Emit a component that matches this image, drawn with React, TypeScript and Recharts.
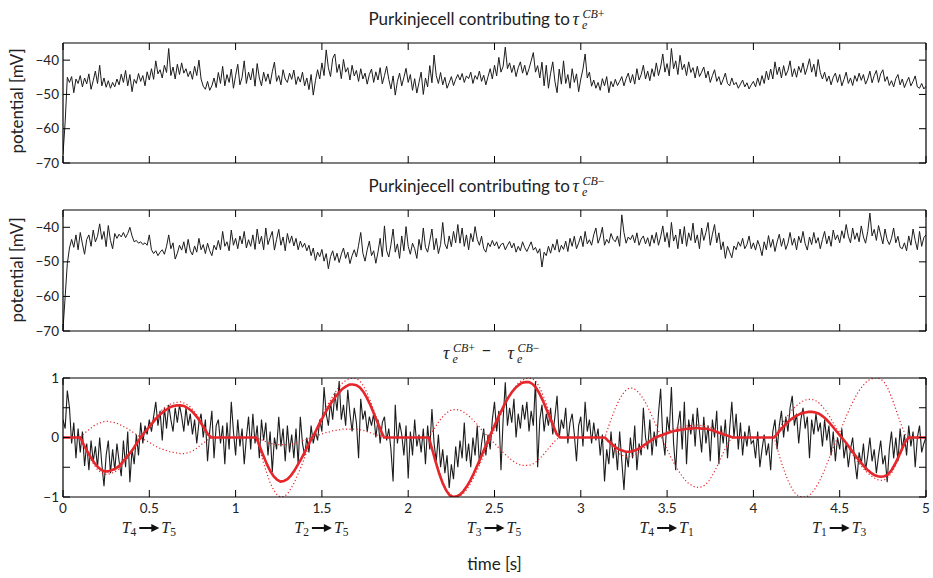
import React from 'react';
import { LineChart, Line, XAxis, YAxis, ReferenceLine } from 'recharts';

// sample spacing of the recorded traces and of the red target curves (seconds)
const TRACE_DT = 0.0125;
const TARGET_DT = 0.02;

const timeTicks = [0, 0.5, 1, 1.5, 2, 2.5, 3, 3.5, 4, 4.5, 5];
const mvTicks = [-70, -60, -50, -40];
const diffTicks = [-1, -0.5, 0, 0.5, 1];
const diffTickLabels = [-1, 0, 1];
const segmentTicks = [0.5, 1.5, 2.5, 3.5, 4.5];
const segmentLabels = [
  ['4', '5'],
  ['2', '5'],
  ['3', '5'],
  ['4', '1'],
  ['1', '3'],
];

// membrane potential of the cell contributing to tau CB+ [mV], one row per 0.1 s
const potentialPlus = [
  -67.5, -58, -45, -46.5, -44.8, -49.5, -45.5, -46.8,
  -44.5, -47.8, -45.2, -46.9, -44, -48.5, -46, -43.2,
  -46.8, -41.5, -47.5, -45.2, -47.9, -46, -48.2, -46.5,
  -47.8, -45.5, -47.2, -44.1, -46.5, -43, -47.5, -44.2,
  -49.2, -45.6, -46.8, -43.9, -46.2, -44.5, -47.5, -43.4,
  -45.8, -42.5, -45.6, -40.2, -44, -42.8, -45.2, -41.5,
  -43.6, -36.6, -44.5, -42, -45.5, -41.2, -44.2, -40.8,
  -43.8, -42.5, -44.8, -43.2, -45.6, -41.8, -44.5, -40,
  -45.5, -47.6, -48.5, -46.2, -48.8, -47.5, -45.2, -48,
  -43.6, -46.8, -41.8, -47.5, -44.2, -46.5, -42.6, -48.2,
  -44.5, -41.2, -47.2, -45, -40.2, -46.8, -43.5, -45.8,
  -42.4, -47.6, -41, -45.2, -47.5, -43.5, -46.2, -44,
  -47, -43.4, -40.6, -46.2, -44.5, -47.2, -42.8, -45.5,
  -46.5, -43.8, -45.6, -42.9, -47.1, -44.8, -46.4, -43.5,
  -47.5, -45.2, -48.6, -44.2, -50.2, -46, -42.8, -45.5,
  -40.8, -44.5, -37, -42.2, -44.8, -39.5, -38.2, -43.6,
  -41.2, -45.4, -39.8, -43.5, -42.2, -45.8, -41.5, -44.6,
  -43, -46.2, -42.5, -45.5, -43.8, -47, -44.2, -42.6,
  -46.5, -43.4, -45.8, -42.2, -46.9, -44.5, -41.8, -45.6,
  -48.4, -44.6, -50.2, -46.2, -43.8, -47.5, -45, -42.4,
  -46.5, -44.2, -48.8, -45.4, -49.6, -46.5, -43.5, -50,
  -45.2, -47.8, -41.6, -46.6, -38.5, -44.5, -46.8, -43.6,
  -47.2, -45, -48.2, -46.6, -44.8, -47.4, -45.6, -44.2,
  -45.8, -43.9, -46.5, -44.6, -45.4, -43.5, -46.8, -44.5,
  -45.6, -43.2, -46.2, -44.4, -47.2, -44.8, -42.5, -45.5,
  -41.5, -44.6, -39.2, -43.5, -41.8, -36.2, -42.5, -40.8,
  -43.6, -41.5, -44.8, -42.2, -40.5, -43.8, -41.5, -44.4,
  -42.5, -40.2, -37.8, -43.5, -41.6, -45.2, -40.6, -47.5,
  -41.5, -48.2, -43.8, -40.5, -46.2, -49.5, -42.6, -47,
  -40.2, -46.8, -44.2, -48.2, -42.5, -46.5, -44, -49.2,
  -45.5, -42.6, -38.2, -45.2, -43.5, -47.6, -45.8, -48.2,
  -46.5, -48.8, -45.4, -47.5, -44.8, -49.5, -46.2, -47.8,
  -45.6, -47.4, -46.2, -44.8, -47.5, -45.4, -43.8, -46.6,
  -44.2, -47, -42.5, -45.8, -44.2, -41.5, -45.5, -43.2,
  -46, -42.5, -44.8, -40.8, -44.5, -42, -38.2, -43.5,
  -41, -44.6, -36.6, -42.5, -40.2, -44.2, -38.6, -42.8,
  -41.2, -44.5, -40.5, -43.6, -42.2, -45.2, -41.8, -44.8,
  -43.5, -42, -45.2, -43.2, -46.5, -44.5, -42.8, -46.2,
  -44.8, -47.2, -45.6, -43.8, -46.8, -47.5, -45.2, -47.2,
  -46.5, -48.2, -47, -45.8, -47.8, -46.6, -48.4, -47.2,
  -46.2, -47.8, -45.2, -47.4, -44.5, -46.8, -43.2, -45.8,
  -42.6, -45.5, -40.5, -44.2, -42, -45.2, -41.6, -44.5,
  -43, -40.2, -44.8, -42.5, -45, -41.8, -43.6, -40.8,
  -44.2, -42.2, -39.6, -43.5, -41.2, -44.8, -39.8, -43.6,
  -45.5, -43.5, -46.2, -44.6, -47.2, -45, -43.8, -46.5,
  -44.2, -47.5, -45.6, -43.5, -46.8, -45.2, -47.4, -44.5,
  -46.2, -43.8, -45.9, -44.2, -47, -45.5, -43.2, -46.6,
  -44.5, -43, -46.5, -44, -42.8, -46.2, -44.8, -47.4,
  -46, -47.8, -45.4, -44.2, -47.2, -45.5, -48, -46.4,
  -45, -47.5, -46.2, -44.6, -47.8, -48.2, -46.8, -48.4,
  -47.6,
];

// membrane potential of the cell contributing to tau CB- [mV]
const potentialMinus = [
  -69.5, -60, -50.5, -46, -43.5, -45.8, -42.2, -46.5,
  -41.5, -44.8, -47.8, -43.5, -42.2, -45.5, -40.8, -44.2,
  -42.6, -39, -43.5, -41.2, -45.6, -39.5, -43.8, -46.2,
  -41.8, -43.2, -42, -42.8, -41.5, -43, -41.8, -40,
  -42.5, -44.2, -43.8, -44.6, -44.2, -45, -44.5, -45.2,
  -42.2, -46.5, -47.6, -46.8, -48.2, -47.2, -46.5, -47.8,
  -45.5, -42.2, -46.2, -44.5, -49.2, -47.5, -45.2, -46.6,
  -44.2, -47.5, -43.5, -46.8, -48, -45.4, -47.2, -43.2,
  -46.5, -45, -47.6, -44.6, -46.8, -48.2, -45.2, -46.5,
  -43.8, -46.5, -41.2, -45.5, -44.2, -46.8, -40.8, -45.2,
  -43.2, -46.2, -42.5, -44.8, -41.2, -46, -43.6, -45.5,
  -42.2, -46.4, -40.5, -44.8, -42.6, -46.5, -40.2, -45,
  -43, -41.2, -46.6, -43.5, -40.6, -45.2, -42.8, -46.8,
  -41.8, -44.6, -42.5, -45.4, -43.2, -46.5, -44, -45.8,
  -44.6, -46.8, -45.2, -48.2, -46, -49.6, -47.2, -48.5,
  -46.4, -49.8, -47.6, -52, -48.5, -46.8, -49.6, -47.5,
  -50.2, -47.8, -46, -49, -47.2, -50.5, -48.2, -46.5,
  -48.6, -45.2, -41.5, -47.5, -49.8, -46.5, -44, -48.2,
  -46.8, -50.4, -47.2, -43.2, -48.5, -39.6, -46.8, -48.6,
  -45, -40.5, -47.2, -44.8, -49, -42.5, -46.8, -39.8,
  -45.5, -47.8, -44.6, -46.2, -49, -43.5, -46.6, -40.2,
  -45.8, -47.2, -44, -40.5, -46.5, -43.2, -47.6, -45,
  -38.6, -44.8, -46.2, -42.5, -45.6, -41.2, -44.5, -39.2,
  -44.6, -40.2, -45.5, -42.2, -46.5, -41.8, -44.2, -39.8,
  -43.5, -45.2, -42.6, -46.2, -47.2, -44.5, -45.6, -43.8,
  -45.4, -44.2, -46.2, -45, -44.6, -46.5, -45.2, -44.1,
  -46, -44.6, -47.2, -45.5, -46.8, -44.2, -45.9, -47,
  -45.6, -44.2, -46.6, -45.8, -47.5, -46.2, -51.5, -47.2,
  -48.2, -45.5, -47.5, -44.8, -46.6, -43.5, -47.2, -45.2,
  -46.4, -44, -47, -43.2, -45.5, -42.6, -46.2, -44.5,
  -42.5, -45.6, -41.2, -44.8, -43.6, -45.2, -42.2, -40.2,
  -44.6, -42.8, -40, -45.2, -43.5, -44.6, -41.8, -43.5,
  -44.2, -42.5, -45.5, -36.4, -41.5, -44.6, -42.8, -43.6,
  -42.2, -44.5, -41.6, -45.2, -43.4, -42.5, -44.8, -43,
  -45.5, -42.2, -44.6, -41.5, -45.2, -42.8, -39.6, -44.2,
  -41.5, -45.8, -38.6, -44, -42.2, -46.2, -40.5, -44.8,
  -39.8, -45.5, -41.6, -43.8, -38.8, -44.5, -42.2, -46.2,
  -40.2, -43.8, -41.5, -38.6, -45.2, -42, -39.2, -44.5,
  -41.6, -46.5, -44.2, -49, -45.5, -47.2, -48.8, -45.4,
  -46.5, -44.2, -45.5, -43.2, -46.2, -45, -42.5, -46.2,
  -44.5, -46.6, -43.8, -45.6, -48.2, -44.2, -46.5, -42.4,
  -45.8, -43.5, -47, -44.2, -42, -45.5, -43.2, -46.4,
  -44.6, -41.5, -45.2, -43.2, -46.5, -42.6, -44.5, -41.2,
  -44.8, -46.6, -42.8, -45, -41.5, -44.6, -43, -46.2,
  -43.5, -41.2, -44.8, -42.5, -45.5, -40.8, -43.6, -42.2,
  -44.5, -41, -43.2, -39.2, -42.6, -44.5, -40.2, -43.5,
  -41.6, -44.2, -39.6, -42.8, -44.6, -41.2, -35.9, -42.5,
  -40.6, -43.8, -39.5, -42.2, -44.8, -40.5, -43.6, -45,
  -43.2, -40.2, -44.5, -42.6, -45.8, -46.2, -44.5, -46.8,
  -42.5, -45.2, -40.5, -43.8, -46.5, -41.2, -45.5, -43,
  -42.2,
];

// tau CB+ minus tau CB- (normalised)
const tauDiff = [
  0.3, 0.15, 0.79, 0.5, -0.1, 0.25, -0.35, 0.15,
  -0.25, 0.1, -0.48, -0.1, -0.55, -0.05, -0.4, -0.15,
  -0.5, 0, -0.45, -0.82, -0.3, -0.05, -0.6, -0.2,
  -0.55, -0.1, -0.4, -0.65, -0.05, -0.5, 0.1, -0.75,
  -0.2, -0.45, 0.05, -0.3, 0.25, -0.1, 0.2, 0.05,
  0.3, 0.1, 0.35, 0.6, 0.2, 0.45, -0.05, 0.5,
  0.15, 0.55, 0.3, 0.1, 0.5, 0.25, 0.55, 0.35,
  0.1, 0.5, 0.2, 0.4, 0.05, 0.3, -0.1, 0.25,
  0.4, 0, 0.3, -0.4, 0.1, 0.45, -0.35, 0.2,
  0.3, -0.1, 0.2, -0.45, 0.25, -0.2, 0.6, 0.1,
  -0.3, 0.3, -0.15, 0.15, -0.45, 0, 0.35, -0.2,
  0.4, -0.1, 0.2, -0.35, 0.3, -0.05, 0.25, -0.3,
  0.1, -0.58, 0, -0.2, 0.35, -0.15, 0.15, -0.4,
  0.2, -0.25, 0.05, -0.35, 0.15, -0.45, 0.35, -0.1,
  -0.3, 0, -0.25, 0.2, -0.1, 0.1, -0.05, 0.3,
  0.1, 0.85, 0.4, 0.2, 0.6, 0.3, 0.75, 0.45,
  0.95, 0.3, 0.55, 0.2, 0.8, 0.4, 0.1, 0.5,
  0.25, -0.35, 0.65, 0.3, 0.45, 0.1, 0.35, 0.2,
  0.4, 0, 0.3, -0.1, 0.25, 0.35, -0.05, 0.15,
  -0.2, -0.74, 0.55, -0.1, 0.25, 0.05, -0.3, 0.2,
  -0.69, 0.1, -0.3, 0.3, -0.15, 0.05, -0.25, 0.15,
  -0.45, 0.2, -0.2, 0.48, -0.1, -0.4, 0.05, -0.5,
  -0.2, -0.6, -0.3, -0.85, -0.45, -0.7, -0.15, -0.5,
  -0.05, -0.35, 0.25, -0.4, -0.1, -0.5, 0, -0.3,
  0.2, -0.45, -0.1, 0.15, -0.3, 0.05, -0.2, 0.3,
  0.6, 0.1, 0.45, -0.55, 0.3, 0.93, 0.2, 0.5,
  0.25, 0.65, 0, 0.4, 0.15, 0.55, 0.3, 0.6,
  0.1, 0.45, 0.2, 0.95, -0.5, 0.3, 0.55, 0.1,
  0.4, 0.2, 0.5, 0.05, 0.35, 0.7, 0, 0.3,
  0.15, 0.5, -0.1, 0.25, 0.4, 0.05, -0.4, 0.2,
  0.35, -0.15, 0.6, 0.1, 0.3, -0.1, 0.25, -0.05,
  0.15, -0.3, 0.05, -0.74, -0.2, -0.45, 0.1, -0.35,
  -0.1, -0.55, 0.1, -0.4, -0.88, -0.25, -0.5, 0,
  -0.35, 0.2, -0.55, -0.1, -0.3, 0.5, 0, -0.2,
  0.3, -0.3, 0.1, -0.15, 0.4, 0.82, 0, -0.3,
  0.35, 0.1, 0.85, -0.1, -0.55, 0.2, 0.45, -0.2,
  0.6, -0.45, 0.3, 0.05, 0.4, -0.15, 0.5, 0.1,
  -0.25, 0.35, -0.1, 0.2, -0.4, 0.3, 0, 0.45,
  -0.45, 0.2, -0.1, 0.3, -0.35, 0.15, 0.6, 0,
  0.4, -0.2, 0.25, -0.3, 0.1, -0.15, 0.2, -0.1,
  -0.05, -0.35, 0.1, -0.5, -0.2, 0.05, -0.3, -0.1,
  -0.55, 0.1, 0.3, -0.2, 0.2, 0.45, 0, 0.35,
  0.1, 0.5, 0.7, 0.2, 0.4, -0.1, 0.3, 0.5,
  0.15, 0.35, -0.35, 0.3, 0.05, 0.4, 0.1, 0.25,
  -0.15, 0.3, -0.05, 0.2, -0.3, 0.1, -0.4, 0,
  -0.2, 0.15, -0.35, -0.1, -0.5, -0.2, 0, -0.4,
  -0.7, -0.25, -0.45, -0.1, -0.55, -0.3, 0, -0.4,
  -0.2, -0.6, -0.3, -0.05, -0.45, -0.3, -0.75, -0.2,
  0.1, -0.35, 0, -0.4, 0.15, -0.2, 0.05, -0.3,
  0.2, -0.15, 0.1, -0.5, 0, 0.2, -0.25, -0.1,
  0,
];

// red thick curve, sampled every 0.02 s
const tauOutput = [
  0, 0, 0, 0, 0, 0,
  -0.12, -0.23, -0.33, -0.42, -0.49, -0.54, -0.57, -0.57, -0.55, -0.53,
  -0.49, -0.43, -0.36, -0.29, -0.22, -0.13, -0.04, 0.04, 0.11, 0.18,
  0.25, 0.32, 0.38, 0.43, 0.47, 0.51, 0.53, 0.54, 0.54, 0.53,
  0.5, 0.46, 0.4, 0.33, 0.24, 0.15, 0.05, 0,
  0, 0, 0, 0, 0, 0, 0, 0, 0, 0, 0, 0, 0,
  -0.15, -0.3, -0.44, -0.56, -0.65, -0.71, -0.74, -0.73, -0.7, -0.64,
  -0.56, -0.46, -0.36, -0.25, -0.13, -0.02, 0.08, 0.2, 0.31, 0.42,
  0.52, 0.61, 0.69, 0.76, 0.82, 0.86, 0.89, 0.89, 0.88, 0.84,
  0.77, 0.67, 0.55, 0.41, 0.27, 0.13, 0,
  0, 0, 0, 0, 0, 0, 0, 0, 0, 0, 0, 0, 0,
  -0.21, -0.42, -0.61, -0.77, -0.89, -0.97, -1, -0.99, -0.96, -0.9,
  -0.82, -0.72, -0.6, -0.47, -0.34, -0.2, -0.07, 0.07, 0.2, 0.33,
  0.45, 0.57, 0.67, 0.76, 0.83, 0.88, 0.92, 0.93, 0.93, 0.9,
  0.84, 0.74, 0.62, 0.48, 0.34, 0.2, 0.06, 0,
  0, 0, 0, 0, 0, 0, 0, 0, 0, 0, 0, 0, 0,
  -0.06, -0.11, -0.16, -0.2, -0.22, -0.24, -0.24, -0.23, -0.21, -0.18,
  -0.14, -0.1, -0.06, -0.02, 0.01, 0.03, 0.05, 0.07, 0.09, 0.11,
  0.12, 0.13, 0.14, 0.15, 0.15, 0.16, 0.16, 0.15, 0.15, 0.14,
  0.12, 0.1, 0.08, 0.06, 0.04, 0.02, 0,
  0, 0, 0, 0, 0, 0, 0, 0, 0, 0, 0, 0,
  0.07, 0.14, 0.2, 0.26, 0.31, 0.35, 0.38, 0.41, 0.42, 0.43,
  0.43, 0.42, 0.4, 0.36, 0.31, 0.25, 0.18, 0.11, 0.04, -0.03,
  -0.1, -0.18, -0.26, -0.34, -0.41, -0.48, -0.54, -0.59, -0.63, -0.65,
  -0.66, -0.65, -0.62, -0.55, -0.45, -0.33, -0.2, -0.07, 0,
  0, 0, 0, 0, 0,
];

// first red dotted curve
const tauDottedA = [
  0, 0, 0, 0, 0, 0,
  -0.13, -0.25, -0.36, -0.46, -0.54, -0.59, -0.62, -0.62, -0.6, -0.58,
  -0.54, -0.47, -0.4, -0.32, -0.24, -0.14, -0.04, 0.04, 0.12, 0.2,
  0.28, 0.35, 0.42, 0.48, 0.52, 0.56, 0.58, 0.59, 0.6, 0.58,
  0.55, 0.51, 0.44, 0.36, 0.26, 0.17, 0.06, 0,
  0, 0, 0, 0, 0, 0, 0, 0, 0, 0, 0, 0, 0,
  -0.2, -0.41, -0.59, -0.76, -0.88, -0.96, -1, -0.99, -0.95, -0.86,
  -0.76, -0.62, -0.49, -0.34, -0.18, -0.03, 0.09, 0.22, 0.35, 0.47,
  0.58, 0.68, 0.77, 0.85, 0.92, 0.96, 0.99, 1, 0.99, 0.95,
  0.87, 0.76, 0.62, 0.46, 0.3, 0.15, 0,
  0, 0, 0, 0, 0, 0, 0, 0, 0, 0, 0, 0, 0,
  -0.2, -0.4, -0.58, -0.74, -0.87, -0.95, -0.99, -1, -0.98, -0.94,
  -0.87, -0.78, -0.67, -0.55, -0.42, -0.28, -0.14, 0, 0.14, 0.28,
  0.41, 0.54, 0.66, 0.76, 0.85, 0.92, 0.96, 0.99, 1, 0.99,
  0.94, 0.85, 0.72, 0.57, 0.4, 0.23, 0.07, 0,
  0, 0, 0, 0, 0, 0, 0, 0, 0, 0, 0, 0, 0,
  0.18, 0.34, 0.49, 0.62, 0.72, 0.79, 0.83, 0.83, 0.8, 0.74,
  0.66, 0.56, 0.44, 0.31, 0.18, 0.05, -0.08, -0.2, -0.32, -0.43,
  -0.53, -0.62, -0.7, -0.76, -0.8, -0.83, -0.84, -0.83, -0.8, -0.74,
  -0.65, -0.54, -0.42, -0.29, -0.17, -0.06, 0,
  0, 0, 0, 0, 0, 0, 0, 0, 0, 0, 0, 0,
  -0.2, -0.4, -0.57, -0.72, -0.84, -0.93, -0.98, -1, -1, -0.98,
  -0.93, -0.85, -0.75, -0.63, -0.49, -0.34, -0.19, -0.05, 0.09, 0.23,
  0.37, 0.5, 0.62, 0.73, 0.82, 0.89, 0.95, 0.98, 1, 1,
  0.98, 0.92, 0.82, 0.68, 0.52, 0.35, 0.19, 0.05, 0,
  0, 0, 0, 0, 0,
];

// second red dotted curve
const tauDottedB = [
  0, 0, 0, 0, 0, 0,
  0.06, 0.11, 0.15, 0.2, 0.23, 0.25, 0.27, 0.27, 0.26, 0.25,
  0.23, 0.2, 0.17, 0.14, 0.1, 0.06, 0.02, -0.02, -0.05, -0.08,
  -0.12, -0.15, -0.18, -0.2, -0.22, -0.24, -0.25, -0.26, -0.27, -0.27,
  -0.26, -0.24, -0.21, -0.17, -0.12, -0.08, -0.03, 0,
  0, 0, 0, 0, 0, 0, 0, 0, 0, 0, 0, 0, 0,
  -0.03, -0.05, -0.08, -0.1, -0.11, -0.12, -0.12, -0.12, -0.12, -0.11,
  -0.1, -0.08, -0.06, -0.04, -0.02, 0, 0.02, 0.04, 0.06, 0.08,
  0.09, 0.11, 0.12, 0.13, 0.14, 0.14, 0.14, 0.14, 0.14, 0.13,
  0.12, 0.1, 0.08, 0.06, 0.04, 0.02, 0,
  0, 0, 0, 0, 0, 0, 0, 0, 0, 0, 0, 0, 0,
  0.1, 0.19, 0.28, 0.35, 0.41, 0.45, 0.47, 0.47, 0.46, 0.43,
  0.39, 0.34, 0.28, 0.22, 0.15, 0.08, 0.02, -0.04, -0.1, -0.16,
  -0.22, -0.28, -0.33, -0.38, -0.42, -0.45, -0.47, -0.47, -0.47, -0.45,
  -0.41, -0.36, -0.3, -0.23, -0.16, -0.09, -0.03, 0,
  0, 0, 0, 0, 0, 0, 0, 0, 0, 0, 0, 0, 0,
  -0.08, -0.15, -0.22, -0.27, -0.3, -0.32, -0.32, -0.31, -0.28, -0.24,
  -0.19, -0.14, -0.08, -0.03, 0.01, 0.04, 0.07, 0.09, 0.12, 0.15,
  0.16, 0.18, 0.19, 0.2, 0.2, 0.21, 0.21, 0.2, 0.2, 0.19,
  0.16, 0.14, 0.11, 0.08, 0.05, 0.03, 0,
  0, 0, 0, 0, 0, 0, 0, 0, 0, 0, 0, 0,
  0.1, 0.2, 0.29, 0.37, 0.45, 0.51, 0.56, 0.6, 0.63, 0.64,
  0.64, 0.62, 0.58, 0.52, 0.45, 0.36, 0.26, 0.16, 0.06, -0.04,
  -0.13, -0.22, -0.31, -0.39, -0.46, -0.53, -0.59, -0.64, -0.68, -0.71,
  -0.72, -0.71, -0.67, -0.6, -0.49, -0.36, -0.22, -0.08, 0,
  0, 0, 0, 0, 0,
];

const toRows = (values: number[], dt: number) =>
  values.map((v, i) => ({ t: Math.round(i * dt * 10000) / 10000, v }));

const plusRows = toRows(potentialPlus, TRACE_DT);
const minusRows = toRows(potentialMinus, TRACE_DT);
const diffRows = toRows(tauDiff, TRACE_DT);
const outputRows = toRows(tauOutput, TARGET_DT);
const dottedARows = toRows(tauDottedA, TARGET_DT);
const dottedBRows = toRows(tauDottedB, TARGET_DT);

const W = 933;
const PLOT_LEFT = 63;
const PLOT_RIGHT = 926;
const PLOT_W = PLOT_RIGHT - PLOT_LEFT;
const TICK = 7;
const SANS = 'Lato, "Open Sans", sans-serif';
const SERIF = '"Liberation Serif", "DejaVu Serif", serif';
const RED = '#e5262b';
const INK = '#1c1c1c';

const fmt = (v: number) => (v < 0 ? '\u2212' + Math.abs(v) : String(v));

const makeXTick = (plotH: number, withLabels: boolean) => (p: any) => {
  const { x, y, payload } = p;
  const seg = segmentTicks.indexOf(payload.value);
  return (
    <g>
      <line x1={x} x2={x} y1={y} y2={y - TICK} stroke="#000" strokeWidth={1} />
      <line x1={x} x2={x} y1={y - plotH} y2={y - plotH + TICK} stroke="#000" strokeWidth={1} />
      {withLabels && (
        <text x={x} y={y + 15.5} textAnchor="middle" fontFamily={SANS} fontSize={13.5} fill="#222">
          {fmt(payload.value)}
        </text>
      )}
      {withLabels && seg >= 0 && (
        <g>
          <text x={x - 13} y={y + 36} textAnchor="end" fontFamily={SERIF} fontSize={16} fill="#222">
            <tspan fontStyle="italic">T</tspan>
            <tspan fontSize={11.5} dy={3}>{segmentLabels[seg][0]}</tspan>
          </text>
          <line x1={x - 10} x2={x + 3} y1={y + 31} y2={y + 31} stroke="#111" strokeWidth={2} />
          <polygon points={`${x + 2},${y + 27} ${x + 10},${y + 31} ${x + 2},${y + 35}`} fill="#111" />
          <text x={x + 12} y={y + 36} textAnchor="start" fontFamily={SERIF} fontSize={16} fill="#222">
            <tspan fontStyle="italic">T</tspan>
            <tspan fontSize={11.5} dy={3}>{segmentLabels[seg][1]}</tspan>
          </text>
        </g>
      )}
    </g>
  );
};

const makeYTick = (labelled?: number[]) => (p: any) => {
  const { x, y, payload } = p;
  const show = !labelled || labelled.includes(payload.value);
  return (
    <g>
      <line x1={x} x2={x + TICK} y1={y} y2={y} stroke="#000" strokeWidth={1} />
      <line x1={x + PLOT_W} x2={x + PLOT_W - TICK} y1={y} y2={y} stroke="#000" strokeWidth={1} />
      {show && (
        <text x={x - 4} y={y + 4.5} textAnchor="end" fontFamily={SANS} fontSize={13.5} fill="#222">
          {fmt(payload.value)}
        </text>
      )}
    </g>
  );
};

type PanelProps = {
  plotTop: number;
  plotH: number;
  bottomSpace: number;
  yDomain: [number, number];
  yTicks: number[];
  yLabels?: number[];
  xLabels: boolean;
  children: React.ReactNode;
};

const Panel = ({ plotTop, plotH, bottomSpace, yDomain, yTicks, yLabels, xLabels, children }: PanelProps) => (
  <div style={{ position: 'absolute', left: 0, top: plotTop - 10 }}>
    <LineChart
      width={W}
      height={10 + plotH + bottomSpace}
      margin={{ top: 10, right: W - PLOT_RIGHT, left: 0, bottom: 0 }}
    >
      <XAxis
        xAxisId="b"
        type="number"
        dataKey="t"
        domain={[0, 5]}
        allowDataOverflow
        ticks={timeTicks}
        interval={0}
        height={bottomSpace}
        tickSize={0}
        tickMargin={0}
        tickLine={false}
        axisLine={{ stroke: '#000', strokeWidth: 1.2 }}
        tick={makeXTick(plotH, xLabels)}
      />
      <YAxis
        yAxisId="l"
        type="number"
        domain={yDomain}
        allowDataOverflow
        ticks={yTicks}
        interval={0}
        width={PLOT_LEFT}
        tickSize={0}
        tickMargin={0}
        tickLine={false}
        axisLine={{ stroke: '#000', strokeWidth: 1.2 }}
        tick={makeYTick(yLabels)}
      />
      {children}
      {/* closing edges of the box */}
      <ReferenceLine xAxisId="b" yAxisId="l" y={yDomain[1]} stroke="#000" strokeWidth={1.2} ifOverflow="visible" />
      <ReferenceLine xAxisId="b" yAxisId="l" x={5} stroke="#000" strokeWidth={1.2} ifOverflow="visible" />
    </LineChart>
  </div>
);

const TauSymbol = ({ x, y, sign }: { x: number; y: number; sign: string }) => (
  <g fontFamily={SERIF} fontStyle="italic" fill="#222">
    <text x={x} y={y} fontSize={18}>τ</text>
    <text x={x + 9.5} y={y + 3.5} fontSize={12}>e</text>
    <text x={x + 10} y={y - 7} fontSize={12}>
      CB<tspan fontStyle="normal">{sign}</tspan>
    </text>
  </g>
);

export default function App() {
  return (
    <div style={{ position: 'absolute', left: 0, top: 0, width: W, height: 578, background: '#fff' }}>
      <Panel plotTop={43} plotH={120} bottomSpace={10} yDomain={[-70, -35]} yTicks={mvTicks} xLabels={false}>
        <Line
          data={plusRows}
          dataKey="v"
          xAxisId="b"
          yAxisId="l"
          type="linear"
          stroke={INK}
          strokeWidth={1}
          dot={false}
          isAnimationActive={false}
        />
      </Panel>
      <Panel plotTop={210} plotH={121} bottomSpace={10} yDomain={[-70, -35]} yTicks={mvTicks} xLabels={false}>
        <Line
          data={minusRows}
          dataKey="v"
          xAxisId="b"
          yAxisId="l"
          type="linear"
          stroke={INK}
          strokeWidth={1}
          dot={false}
          isAnimationActive={false}
        />
      </Panel>
      <Panel
        plotTop={378}
        plotH={119}
        bottomSpace={50}
        yDomain={[-1, 1]}
        yTicks={diffTicks}
        yLabels={diffTickLabels}
        xLabels
      >
        <Line
          data={diffRows}
          dataKey="v"
          xAxisId="b"
          yAxisId="l"
          type="linear"
          stroke={INK}
          strokeWidth={1.1}
          dot={false}
          isAnimationActive={false}
        />
        <Line
          data={dottedARows}
          dataKey="v"
          xAxisId="b"
          yAxisId="l"
          type="linear"
          stroke={RED}
          strokeWidth={1.2}
          strokeDasharray="1.2 2.3"
          dot={false}
          isAnimationActive={false}
        />
        <Line
          data={dottedBRows}
          dataKey="v"
          xAxisId="b"
          yAxisId="l"
          type="linear"
          stroke={RED}
          strokeWidth={1.2}
          strokeDasharray="1.2 2.3"
          dot={false}
          isAnimationActive={false}
        />
        <Line
          data={outputRows}
          dataKey="v"
          xAxisId="b"
          yAxisId="l"
          type="linear"
          stroke={RED}
          strokeWidth={2.6}
          dot={false}
          isAnimationActive={false}
        />
      </Panel>

      <svg width={W} height={578} style={{ position: 'absolute', left: 0, top: 0, pointerEvents: 'none' }}>
        <text x={570} y={25} textAnchor="end" fontFamily={SANS} fontSize={17} fill="#222">
          Purkinjecell contributing to
        </text>
        <TauSymbol x={572.5} y={25} sign="+" />
        <text x={570} y={192} textAnchor="end" fontFamily={SANS} fontSize={17} fill="#222">
          Purkinjecell contributing to
        </text>
        <TauSymbol x={572.5} y={192} sign={'\u2212'} />

        <TauSymbol x={443} y={359} sign="+" />
        <text x={486.5} y={356} textAnchor="middle" fontFamily={SANS} fontSize={17} fill="#222">
          {'\u2212'}
        </text>
        <TauSymbol x={507.5} y={359} sign={'\u2212'} />

        <text
          x={23}
          y={101}
          transform="rotate(-90 23 101)"
          textAnchor="middle"
          fontFamily={SANS}
          fontSize={17}
          fill="#222"
        >
          potential [mV]
        </text>
        <text
          x={23}
          y={270}
          transform="rotate(-90 23 270)"
          textAnchor="middle"
          fontFamily={SANS}
          fontSize={17}
          fill="#222"
        >
          potential [mV]
        </text>
        <text x={494.5} y={570} textAnchor="middle" fontFamily={SANS} fontSize={17} fill="#222">
          time [s]
        </text>
      </svg>
    </div>
  );
}
